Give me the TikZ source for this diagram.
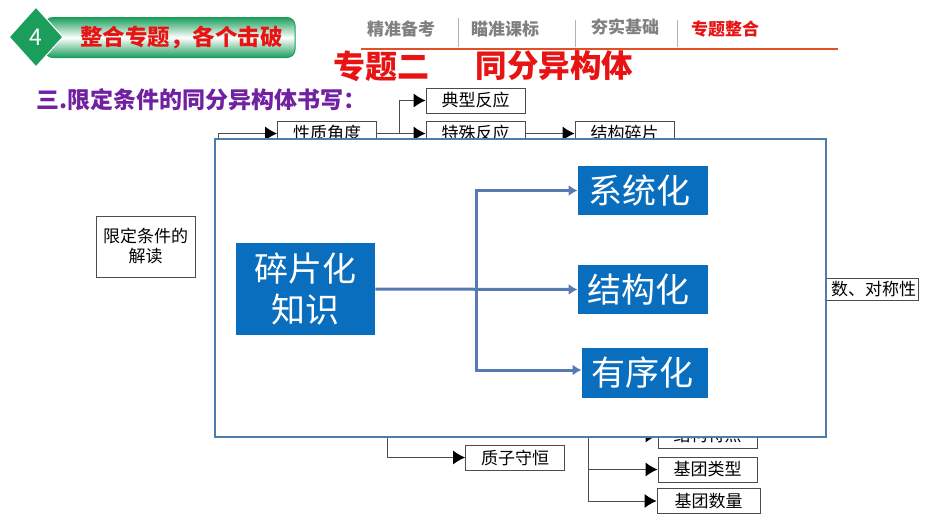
\documentclass[tikz,border=0pt]{standalone}
\usepackage{fontspec}
\setmainfont{Noto Sans CJK SC}
\usetikzlibrary{arrows.meta,shapes.geometric}
\definecolor{headgreen}{RGB}{27,158,92}
\definecolor{navred}{RGB}{232,20,20}
\definecolor{navgray}{RGB}{128,128,128}
\definecolor{rulered}{RGB}{226,80,40}
\definecolor{subpurple}{RGB}{112,32,160}
\definecolor{panelblue}{RGB}{79,125,170}
\definecolor{flowblue}{RGB}{88,122,178}
\definecolor{cardblue}{RGB}{10,110,190}

\begin{document}
\begin{tikzpicture}[x=1pt, y=-1pt, thick, >={Latex[length=12pt,width=14pt,black]},
	main/.style = {draw=black!70, fill=white, line width=0.8pt, minimum width=99pt, minimum height=25pt, inner sep=0pt, font=\fontsize{17}{20}\selectfont},
	card/.style = {fill=cardblue, text=white, inner sep=0pt, font=\fontsize{34}{41}\selectfont},
	nav/.style = {text=navgray, font=\fontsize{17}{20}\selectfont\bfseries},
	bar/.style = {draw=black!30, line width=0.8pt},
	link/.style = {draw=black!70, line width=1pt},
	flow/.style = {draw=flowblue, line width=3pt, -{Latex[length=9pt,width=11pt]}}]
	\useasboundingbox (0,0) rectangle (930,523);

	\node[draw=headgreen, line width=1pt, rounded corners=8pt, minimum width=250pt, minimum height=40pt, top color=headgreen, bottom color=headgreen, middle color=white] (banner) at (170,37.5) {};
	\node[diamond, fill=headgreen, draw=white, line width=1pt, minimum width=54pt, minimum height=60pt, inner sep=0pt, text=white, font=\fontsize{23}{27}\selectfont] (num) at (36,37) {4};
	\node[text=navred, font=\fontsize{22.5}{26}\selectfont\bfseries] (bannertxt) at (181.5,37) {整合专题，各个击破};

	\node[nav] (nav1) at (401,29) {精准备考};
	\node[nav] (nav2) at (505,29) {瞄准课标};
	\node[nav] (nav3) at (625,27) {夯实基础};
	\node[nav, text=navred] (nav4) at (725,29) {专题整合};
	\coordinate (b1t) at (458,18); \coordinate (b1b) at (458,47);
	\coordinate (b2t) at (575,20); \coordinate (b2b) at (575,47);
	\coordinate (b3t) at (677,20); \coordinate (b3b) at (677,47);
	\draw[bar] (b1t) -- (b1b);
	\draw[bar] (b2t) -- (b2b);
	\draw[bar] (b3t) -- (b3b);
	\coordinate (rulel) at (361,49); \coordinate (ruler) at (838,49);
	\draw[draw=rulered, line width=1.6pt] (rulel) -- (ruler);

	\node[text=navred, font=\fontsize{32}{37}\selectfont\bfseries] (title1) at (381,66) {专题二};
	\node[text=navred, font=\fontsize{31.5}{36}\selectfont\bfseries] (title2) at (554.5,66) {同分异构体};
	\node[text=subpurple, anchor=west, inner sep=0pt, font=\fontsize{23}{27}\selectfont\bfseries] (sub) at (36,100) {三.限定条件的同分异构体书写：};

	\node[main] (read) at (145.5,246.5) [minimum width=99pt, minimum height=61pt, align=center] {限定条件的\\解读};
	\node[main] (prop) at (327,133.5) {性质角度};
	\node[main] (typ) at (475.5,100.5) {典型反应};
	\node[main] (spec) at (475.5,133.5) {特殊反应};
	\node[main] (frag) at (624.5,133.5) {结构碎片};
	\node[main] (sym) at (919,289) [anchor=east, minimum width=139pt, minimum height=22pt, text width=134pt, align=right] {数、对称性};
	\node[main] (proton) at (515,457.5) {质子守恒};
	\node[main] (feat) at (707.5,435.5) {结构特点};
	\node[main] (gtype) at (707.5,469.5) {基团类型};
	\node[main] (gnum) at (708.5,501) [minimum width=103pt] {基团数量};

	\coordinate (propin) at (218,150);
	\coordinate (typfork) at (399,133.5);
	\coordinate (protonin) at (387,420);
	\coordinate (groupfork) at (588,420);
	\draw[link, ->] (propin) |- (prop);
	\draw[link, ->] (prop) -- (spec);
	\draw[link, ->] (typfork) |- (typ);
	\draw[link, ->] (spec) -- (frag);
	\draw[link, ->] (protonin) |- (proton);
	\draw[link, ->] (groupfork) |- (feat);
	\draw[link, ->] (groupfork) |- (gtype);
	\draw[link, ->] (groupfork) |- (gnum);

	\node[draw=panelblue, fill=white, line width=2pt, minimum width=611pt, minimum height=298pt, inner sep=0pt] (panel) at (520.5,288) {};
	\node[card, minimum width=139pt, minimum height=92pt, align=center] (know) at (305.5,289) {碎片化\\知识};
	\node[card, minimum width=130pt, minimum height=49pt] (sys) at (643,190.5) {系统化\kern8pt};
	\node[card, minimum width=130pt, minimum height=49pt] (struct) at (643,289.5) {结构化\kern9pt};
	\node[card, minimum width=126pt, minimum height=50pt] (order) at (645,373) {有序化\kern6pt};
	\coordinate (fork) at (476,289);
	\draw[flow] (know.east) -- (struct.west);
	\draw[flow] (fork) |- (sys);
	\draw[flow] (fork) |- ([yshift=3pt]order.west);
\end{tikzpicture}
\end{document}
